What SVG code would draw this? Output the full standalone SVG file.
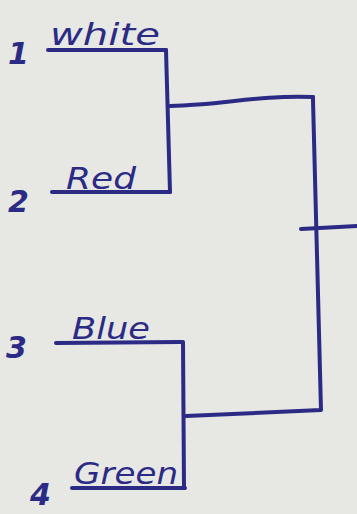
<svg xmlns="http://www.w3.org/2000/svg" width="357" height="514" viewBox="0 0 357 514">
<style>
.ink{fill:none;stroke:#2b2b86;stroke-width:4;stroke-linecap:round;stroke-linejoin:round}
.lbl{font-family:"DejaVu Sans",sans-serif;font-style:italic;fill:#2b2b86;font-size:30px}
.num{font-family:"DejaVu Sans",sans-serif;font-style:italic;fill:#2b2b86;font-size:30px;font-weight:bold}
</style>
<rect width="357" height="514" fill="#e7e7e3"/>
<g id="n1"><text class="num" x="8" y="64">1</text><text class="lbl" x="50" y="45" textLength="110" lengthAdjust="spacingAndGlyphs">white</text><path class="ink" d="M48 50 L166 50"/></g>
<g id="n2"><text class="num" x="8" y="212">2</text><text class="lbl" x="66" y="189" textLength="70" lengthAdjust="spacingAndGlyphs">Red</text><path class="ink" d="M52 192 L170 192"/></g>
<g id="n3"><text class="num" x="6" y="358">3</text><text class="lbl" x="72" y="339" textLength="78" lengthAdjust="spacingAndGlyphs">Blue</text><path class="ink" d="M56 343 L181 342"/></g>
<g id="n4"><text class="num" x="30" y="505">4</text><text class="lbl" x="74" y="484" textLength="104" lengthAdjust="spacingAndGlyphs">Green</text><path class="ink" d="M72 488 L185 488"/></g>
<g id="connectors">
<path class="ink" d="M163 50 L166 50 L170 192"/>
<path class="ink" d="M170 106 C225 105 255 95 313 97"/>
<path class="ink" d="M313 97 L313 100 L321 410 L186 416"/>
<path class="ink" d="M180 342 L183 342 L184 488"/>
<path class="ink" d="M301 229 L357 226"/>
</g>
</svg>
